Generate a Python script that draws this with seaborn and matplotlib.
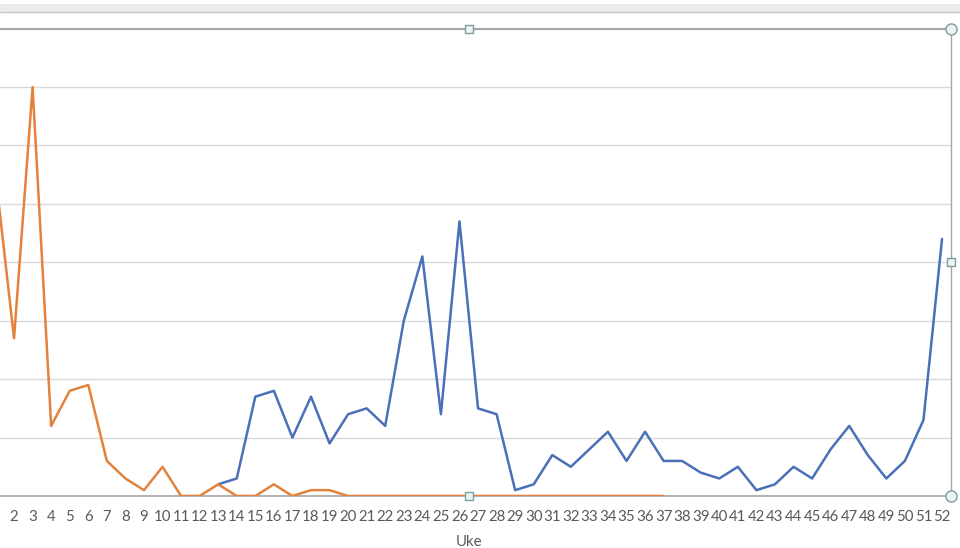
import pandas as pd
import numpy as np
import seaborn as sns
import matplotlib.pyplot as plt
from matplotlib.patches import Rectangle
from matplotlib.lines import Line2D

weeks = list(range(1, 53))
blue_vals = [np.nan] * 12 + [2, 3, 17, 18, 10, 17, 9, 14, 15, 12,
                             30, 41, 14, 47, 15, 14, 1, 2, 7, 5,
                             8, 11, 6, 11, 6, 6, 4, 3, 5, 1,
                             2, 5, 3, 8, 12, 7, 3, 6, 13, 44]
orange_vals = [55, 27, 70, 12, 18, 19, 6, 3, 1, 5,
               0, 0, 2, 0, 0, 2, 0, 1, 1, 0,
               0, 0, 0, 0, 0, 0, 0, 0, 0, 0,
               0, 0, 0, 0, 0, 0, 0] + [np.nan] * 15
series_names = ['Serie 1', 'Serie 2']
colours = ['#4A70B8', '#E4823B']

df = pd.DataFrame({
    'Uke': weeks * 2,
    'Antall': blue_vals + orange_vals,
    'Serie': [series_names[0]] * 52 + [series_names[1]] * 52,
}).dropna()

sns.set_style('white')
plt.rcParams['font.family'] = ['Lato', 'DejaVu Sans']

fig = plt.figure(figsize=(9.6, 5.48), dpi=100)
ax = fig.add_axes([-13.8 / 960, 52 / 548, 965.1 / 960, 467.4 / 548])

sns.lineplot(data=df, x='Uke', y='Antall', hue='Serie', hue_order=series_names,
             palette=colours, estimator=None, sort=False, linewidth=1.8,
             legend=False, ax=ax, zorder=3)

ax.set_xlim(0.5, 52.5)
ax.set_ylim(0, 80)
ax.set_xticks(weeks)
ax.set_xticklabels([str(w) for w in weeks])
ax.set_yticks(range(0, 81, 10))
ax.yaxis.grid(True, color='#D9D9D9', linewidth=1)
ax.tick_params(axis='x', length=0, pad=10, labelsize=10.8, colors='#595959')
ax.tick_params(axis='y', length=0, labelleft=False)
ax.set_ylabel('')
ax.set_xlabel('Uke', fontsize=10.8, color='#595959', labelpad=8)

ax.spines['left'].set_visible(False)
ax.spines['bottom'].set_color('#B4B4B4')
ax.spines['bottom'].set_linewidth(1.5)
ax.spines['top'].set_color('#A6A6A6')
ax.spines['top'].set_linewidth(1.5)
ax.spines['right'].set_color('#A6A6A6')
ax.spines['right'].set_linewidth(1.0)

# selection handles of the chart frame
for hx, hy, m in [(0.5, 1, 's'), (0.5, 0, 's'), (1, 0.5, 's'), (1, 1, 'o'), (1, 0, 'o')]:
    ax.plot([hx], [hy], marker=m, transform=ax.transAxes, clip_on=False,
            ms=6 if m == 's' else 8, mfc='#EAF4F4', mec='#7E9C9C', mew=1, zorder=5)

# top window bar
fig.patches.append(Rectangle((0, 1 - 12 / 548), 1, 8 / 548, transform=fig.transFigure,
                             facecolor='#ECECEC', edgecolor='none'))
fig.lines.append(Line2D([0, 1], [1 - 11.5 / 548] * 2, transform=fig.transFigure,
                        color='#C8C8C8', linewidth=1))

fig.savefig('out.png', dpi=100)
